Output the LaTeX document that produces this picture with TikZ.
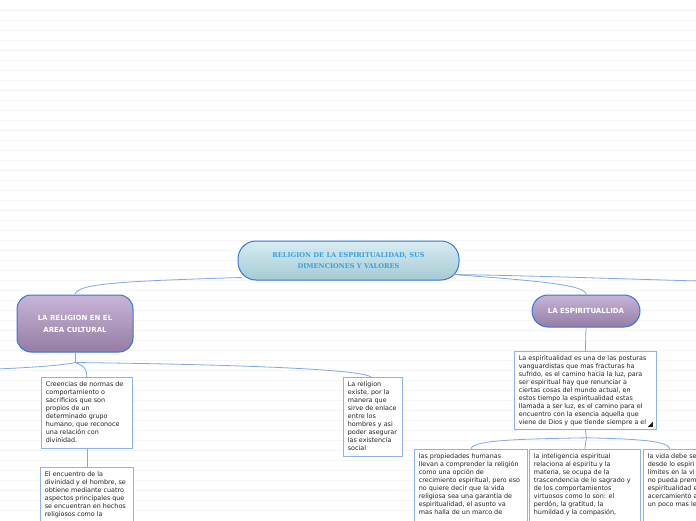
\documentclass[tikz,border=0pt]{standalone}
\usepackage{fontspec}
\setmainfont{DejaVu Sans}
\newfontfamily\slabfont{DejaVu Serif}
\usetikzlibrary{calc}
\definecolor{linec}{HTML}{7FA8E4}
\definecolor{boxc}{HTML}{8DB3EA}
\definecolor{mainborder}{HTML}{3478D8}
\definecolor{roottop}{HTML}{D8EDF2}
\definecolor{rootbot}{HTML}{A6CAD4}
\definecolor{roottext}{HTML}{35A0EA}
\definecolor{purtop}{HTML}{C8B5D8}
\definecolor{purbot}{HTML}{957CA4}
\definecolor{textc}{HTML}{222222}
\newcommand{\tbx}[3]{\parbox[t][#2pt][t]{#1pt}{\raggedright #3}}
\tikzset{
  conn/.style={draw=linec, line width=0.8pt},
  rootbox/.style={draw=mainborder, line width=1pt, rounded corners=18pt,
    top color=roottop, bottom color=rootbot, text=roottext,
    font=\slabfont\bfseries\fontsize{6.6}{10.5}\selectfont, align=center,
    minimum width=221pt, minimum height=39pt},
  mainbox/.style={draw=mainborder, line width=1pt,
    top color=purtop, bottom color=purbot, text=white,
    font=\bfseries\fontsize{7}{12}\selectfont, align=center},
  txtbox/.style={draw=boxc, line width=0.8pt, fill=white, text=textc,
    inner xsep=4.5pt, inner ysep=4pt, anchor=north west,
    font=\fontsize{6.4}{8}\selectfont},
}
\begin{document}
\begin{tikzpicture}[x=1pt,y=-1pt]
\useasboundingbox (0,0) rectangle (696,520);
\clip (0,0) rectangle (696,520);
\fill[white] (0,0) rectangle (696,520);
\foreach \yy in {10,20,...,510} \draw[black!4, line width=0.6pt] (0,\yy) -- (696,\yy);

% nodes
\node[rootbox] (root) at (348.5,260.5) {RELIGION DE LA ESPIRITUALIDAD, SUS\\DIMENCIONES Y VALORES};
\node[mainbox, rounded corners=14pt, minimum width=116pt, minimum height=57pt] (lm) at (75,323.5) {LA RELIGION EN EL\\AREA CULTURAL};
\node[mainbox, rounded corners=16pt, minimum width=108pt, minimum height=32pt] (rm) at (586,311) {LA ESPIRITUALLIDA};

\node[txtbox] (c1) at (41,377) {\tbx{82}{63}{Creencias de normas de\\comportamiento o\\sacrificios que son\\propios de un\\determinado grupo\\humano, que reconoce\\una relación con\\divinidad.}};
\node[txtbox] (c2) at (343,377) {\tbx{50}{71}{La religion\\existe, por la\\manera que\\sirve de enlace\\entre los\\hombres y asi\\poder asegurar\\las existencia\\social}};
\node[txtbox] (c3) at (40,467) {\tbx{84}{90}{El encuentro de la\\divinidad y el hombre, se\\obtiene mediante cuatro\\aspectos principales que\\se encuentran en hechos\\religiosos como la}};

\node[txtbox] (r1) at (514,351) {\tbx{133}{70}{La espiritualidad es una de las posturas\\vanguardistas que mas fracturas ha\\sufrido, es el camino hacia la luz, para\\ser espiritual hay que renunciar a\\ciertas cosas del mundo actual, en\\estos tiempo la espiritualidad estas\\llamada a ser luz, es el camino para el\\encuentro con la esencia aquella que\\viene de Dios y que tiende siempre a el}};
\node[txtbox] (r2) at (414,449) {\tbx{104}{90}{las propiedades humanas\\llevan a comprender la religión\\como una opción de\\crecimiento espiritual, pero eso\\no quiere decir que la vida\\religiosa sea una garantía de\\espiritualidad, el asunto va\\mas halla de un marco de}};
\node[txtbox] (r3) at (529,449) {\tbx{102}{90}{la inteligencia espiritual\\relaciona al espiritu y la\\materia, se ocupa de la\\trascendencia de lo sagrado y\\de los comportamientos\\virtuosos como lo son: el\\perdón, la gratitud, la\\humildad y la compasión,}};
\node[txtbox] (r4) at (643,449) {\tbx{108}{90}{la vida debe se\\desde lo espiri\\limites en la vi\\no pueda prem\\espiritualidad e\\acercamiento a\\un poco mas le}};

% resize icon
\fill[textc] ($(r1.south east)+(-4,-3)$) coordinate (ic) -- ++(0,-5) -- ++(-5,5) -- cycle;

% connector points
\coordinate (rootL) at ($(root.south west)+(4,-3)$);
\coordinate (rootR) at ($(root.south east)+(-6,-6)$);
\coordinate (offR) at (700,281);
\coordinate (lmJ) at ($(lm.south)+(0,10)$);
\coordinate (offL) at (-4,369);
\coordinate (r1J) at ($(r1.south)+(1,8)$);

% connectors
\draw[conn] (rootL) .. controls (130,281) and (76,283) .. (lm.north);
\draw[conn] (rootR) .. controls (540,281) and (586,285) .. (rm.north);
\draw[conn] (rootR) .. controls (550,276) and (620,279) .. (offR);
\draw[conn] (lm.south) -- (lmJ);
\draw[conn] (lmJ) .. controls (60,366) and (20,368) .. (offL);
\draw[conn] (lmJ) .. controls (85,366) and (87,370) .. (c1.north);
\draw[conn] (lmJ) .. controls (200,364) and (360,368) .. ($(c2.north)+(-2,0)$);
\draw[conn] (c1.south) -- (c3.north);
\draw[conn] (rm.south) -- (r1.north);
\draw[conn] (r1.south) -- (r1J);
\draw[conn] (r1J) .. controls (520,439) and (472,440) .. (r2.north);
\draw[conn] (r1J) .. controls (586,442) and (585,445) .. (r3.north);
\draw[conn] (r1J) .. controls (640,439) and (668,441) .. ($(r4.north west)+(27,0)$);
\end{tikzpicture}
\end{document}
